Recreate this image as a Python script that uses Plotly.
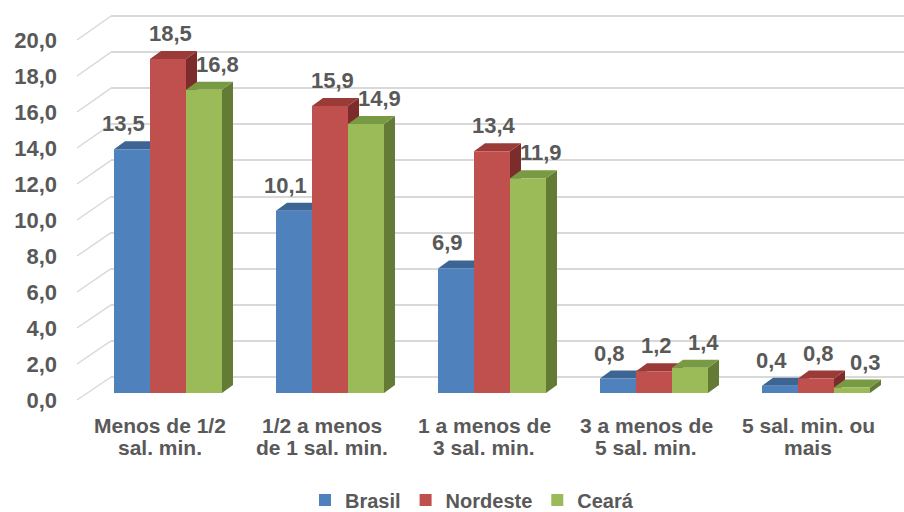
import plotly.graph_objects as go

# ---------------- data ----------------
categories = ["Menos de 1/2<br>sal. min.", "1/2 a menos<br>de 1 sal. min.",
              "1 a menos de<br>3 sal. min.", "3 a menos de<br>5 sal. min.",
              "5 sal. min. ou<br>mais"]
series_names = ["Brasil", "Nordeste", "Ceará"]
brasil = [13.5, 10.1, 6.9, 0.8, 0.4]
nordeste = [18.5, 15.9, 13.4, 1.2, 0.8]
ceara = [16.8, 14.9, 11.9, 1.4, 0.3]
y_ticks = [0, 2, 4, 6, 8, 10, 12, 14, 16, 18, 20]

# ---------------- style / geometry ----------------
W, H = 904, 512
front_col = ["#4F81BD", "#C0504D", "#9BBB59"]
top_col = ["#3C6594", "#9A3B38", "#789A43"]
side_col = ["#335A87", "#7C2D2B", "#637B35"]
TXT = "#595959"
FONT = "Arial, Liberation Sans, sans-serif"

UNIT = 18.05          # px per value unit
BACK_ZERO = 377       # back wall zero (px)
FRONT_ZERO = 400      # front edge zero (px)
BAR_ZERO = 393        # bar base (px)
CAT0, STEP = 168, 162 # first category centre & spacing (px)
WALL_FRONT_X, WALL_BACK_X = 77, 111
DEPTH_DX, DEPTH_DY = 11, 8  # bar depth (px)
BARGAP = 1/3


def pp(py):
    return (H - py) / H


def dom(zero_px, rng, unit=UNIT):
    return [pp(zero_px - unit * rng[0]), pp(zero_px - unit * rng[1])]


def to_px(v, zero_px, unit=UNIT):
    return zero_px - unit * v


back_rng = [-0.5, 20.5]
front_rng = [-0.5, 20.5]
bar_rng = [0, 20.5]
x_rng = [-CAT0 / STEP, (W - CAT0) / STEP]

series = [brasil, nordeste, ceara]
xs = list(range(len(categories)))

fig = go.Figure()
# empty trace to hold the back-wall grid subplot
fig.add_trace(go.Scatter(x=[0], y=[None], xaxis="x", yaxis="y", showlegend=False,
                         hoverinfo="skip", mode="markers"))

for name, vals, c in zip(series_names, series, front_col):
    fig.add_trace(go.Bar(x=xs, y=vals, name=name, marker=dict(color=c, line=dict(width=0)),
                         xaxis="x2", yaxis="y2", hoverinfo="skip"))

shapes = []
# left wall diagonals
for v in y_ticks:
    shapes.append(dict(type="line", xref="paper", yref="paper", layer="below",
                       x0=WALL_FRONT_X / W, y0=pp(to_px(v, FRONT_ZERO, 18.0)),
                       x1=WALL_BACK_X / W, y1=pp(to_px(v, BACK_ZERO)),
                       line=dict(color="#D9D9D9", width=1.5)))

# 3D faces of the bars
w = (1 - BARGAP) / 3
dx = DEPTH_DX / STEP
dy = DEPTH_DY / UNIT
annotations = []
label_nudge = [-9, 2, 13]
for s, vals in enumerate(series):
    off = (s - 1) * w
    for i, v in zip(xs, vals):
        xl, xr = i + off - w / 2, i + off + w / 2
        side = f"M{xr},0 L{xr+dx},{dy} L{xr+dx},{v+dy} L{xr},{v} Z"
        top = f"M{xl},{v} L{xl+dx},{v+dy} L{xr+dx},{v+dy} L{xr},{v} Z"
        shapes.append(dict(type="path", path=side, xref="x2", yref="y2", layer="below",
                           fillcolor=side_col[s], line=dict(width=0)))
        shapes.append(dict(type="path", path=top, xref="x2", yref="y2", layer="below",
                           fillcolor=top_col[s], line=dict(width=0)))
        annotations.append(dict(x=i + off, y=v, xref="x2", yref="y2",
                                text=f"{v:.1f}".replace(".", ","), showarrow=False,
                                xanchor="center", yanchor="bottom", yshift=11,
                                xshift=label_nudge[s],
                                font=dict(family=FONT, size=22, color=TXT, weight="bold")))

# category labels (two lines each)
for i, cat in zip(xs, categories):
    for k, line in enumerate(cat.split("<br>")):
        annotations.append(dict(x=i, y=pp(425 + 22 * k), xref="x2", yref="paper",
                                text=line, showarrow=False, xanchor="center",
                                yanchor="middle", xshift=-8,
                                font=dict(family=FONT, size=21, color=TXT, weight="bold")))

fig.update_layout(
    width=W, height=H, margin=dict(l=0, r=0, t=0, b=0, autoexpand=False),
    paper_bgcolor="white", plot_bgcolor="rgba(0,0,0,0)",
    separators=",.",
    barmode="group", bargap=BARGAP, bargroupgap=0,
    shapes=shapes, annotations=annotations,
    xaxis=dict(domain=[WALL_BACK_X / W, 1], range=[0, 1], visible=False, fixedrange=True),
    yaxis=dict(domain=dom(BACK_ZERO, back_rng), range=back_rng, tickvals=y_ticks,
               showgrid=True, gridcolor="#D9D9D9", gridwidth=1.5, zeroline=False,
               showticklabels=False, showline=False, ticks="", fixedrange=True),
    xaxis2=dict(domain=[0, 1], range=x_rng, anchor="y2", showgrid=False, zeroline=False,
                showticklabels=False, showline=False, ticks="", fixedrange=True),
    yaxis2=dict(domain=dom(BAR_ZERO, bar_rng), range=bar_rng, anchor="x2", showgrid=False,
                zeroline=False, showticklabels=False, showline=False, ticks="", fixedrange=True),
    yaxis3=dict(domain=dom(FRONT_ZERO, front_rng, 18.0), range=front_rng, anchor="free",
                position=57 / W, tickvals=y_ticks, tickformat=".1f", showgrid=False,
                zeroline=False, showline=False, ticks="", fixedrange=True,
                tickfont=dict(family=FONT, size=22, color=TXT, weight="bold")),
    legend=dict(orientation="h", x=0.5 + 20 / W, xanchor="center", y=pp(500), yanchor="middle",
                font=dict(family=FONT, size=20, color=TXT, weight="bold"),
                itemwidth=30, tracegroupgap=0, bgcolor="rgba(0,0,0,0)"),
)
# dummy trace to show the label axis
fig.add_trace(go.Scatter(x=[0], y=[None], xaxis="x2", yaxis="y3", showlegend=False,
                         hoverinfo="skip", mode="markers"))

fig.write_html("out.html", post_script="document.body.style.margin='0';",
               config={"displayModeBar": False})
